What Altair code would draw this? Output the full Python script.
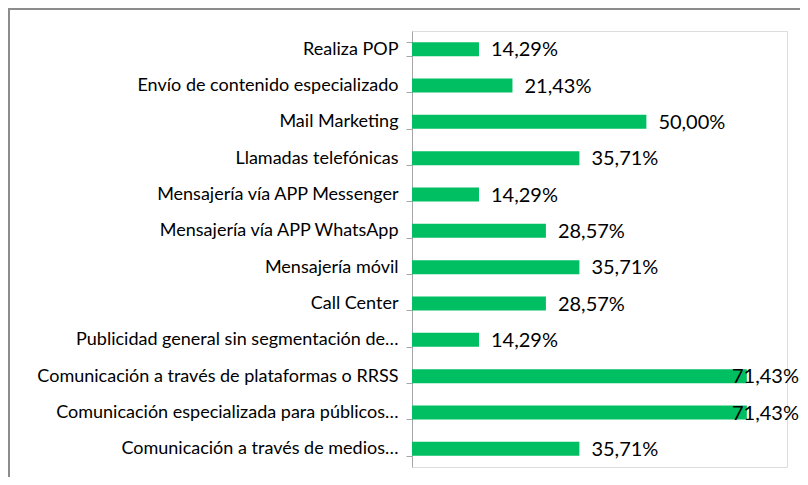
import altair as alt
import pandas as pd

categories = [
    "Realiza POP",
    "Envío de contenido especializado",
    "Mail Marketing",
    "Llamadas telefónicas",
    "Mensajería vía APP Messenger",
    "Mensajería vía APP WhatsApp",
    "Mensajería móvil",
    "Call Center",
    "Publicidad general sin segmentación de…",
    "Comunicación a través de plataformas o RRSS",
    "Comunicación especializada para públicos…",
    "Comunicación a través de medios…",
]
values = [14.29, 21.43, 50.00, 35.71, 14.29, 28.57, 35.71, 28.57, 14.29, 71.43, 71.43, 35.71]

df = pd.DataFrame({"cat": categories, "val": values})
df["label"] = [f"{v:.2f}".replace(".", ",") + "%" for v in values]

FONT = "Lato"
GREEN = "#00BF63"

y_enc = alt.Y(
    "cat:N",
    sort=categories,
    title=None,
    scale=alt.Scale(paddingInner=0.615, paddingOuter=0.3075),
    axis=alt.Axis(
        tickBand="extent",
        domainColor="#A6A6A6",
        tickColor="#A6A6A6",
        tickSize=6,
        labelFont=FONT,
        labelFontSize=18,
        labelColor="#000000",
        labelPadding=8,
        labelLimit=400,
    ),
)
x_enc = alt.X("val:Q", scale=alt.Scale(domain=[0, 80]), axis=None)

bars = alt.Chart(df).mark_bar(color=GREEN).encode(x=x_enc, y=y_enc)

text = (
    alt.Chart(df)
    .transform_calculate(lx="min(datum.val, 65.7)")
    .mark_text(align="left", baseline="middle", dx=12, dy=1, font=FONT, fontSize=20, color="#000000")
    .encode(x=alt.X("lx:Q", scale=alt.Scale(domain=[0, 80]), axis=None), y=alt.Y("cat:N", sort=categories), text="label:N")
)

border_top = alt.Chart(df).mark_rule(color="#8C8C8C", strokeWidth=1.5).encode(
    x=alt.value(-404), x2=alt.value(420), y=alt.value(-22.25)
)
border_left = alt.Chart(df).mark_rule(color="#8C8C8C", strokeWidth=1.5).encode(
    x=alt.value(-403.25), y=alt.value(-23), y2=alt.value(470)
)

chart = (
    alt.layer(bars, text, border_top, border_left)
    .properties(
        width=375,
        height=436,
        autosize=alt.AutoSizeParams(type="none"),
        padding={"left": 404, "top": 23, "right": 13, "bottom": 10},
    )
    .configure_view(stroke=None)
    .configure(background="white")
)

chart.save("out.html", embed_options={"renderer": "svg", "actions": False})
